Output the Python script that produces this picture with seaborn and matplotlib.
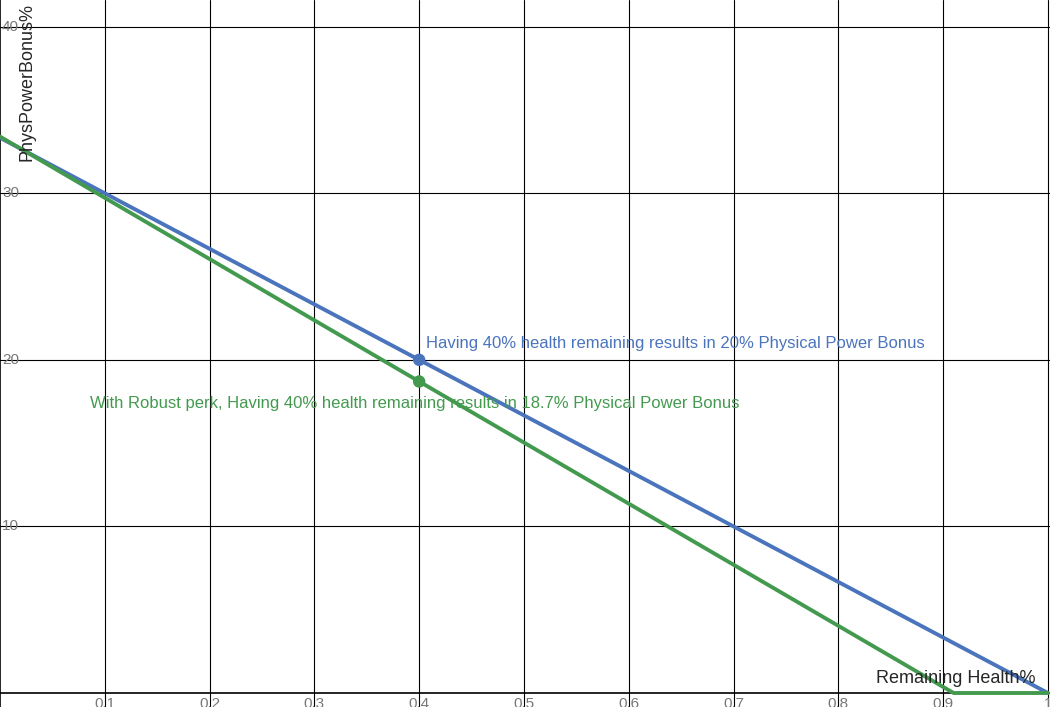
import matplotlib
matplotlib.use('Agg')
import matplotlib.pyplot as plt
import seaborn as sns
import pandas as pd

# data
blue_x = [0.0, 0.4, 1.0]
blue_y = [33.33, 20.0, 0.0]
green_x = [0.0, 0.4, 0.91, 1.0]
green_y = [33.4, 18.7, 0.0, 0.0]
point_x = [0.4, 0.4]
point_y = [20.0, 18.7]
x_ticks = [0.1, 0.2, 0.3, 0.4, 0.5, 0.6, 0.7, 0.8, 0.9, 1.0]
x_tick_labels = ['0.1', '0.2', '0.3', '0.4', '0.5', '0.6', '0.7', '0.8', '0.9', '1']
y_ticks = [10, 20, 30, 40]

BLUE = '#4a74bc'
GREEN = '#439a4f'

sns.set_style('white')
plt.rcParams['font.family'] = ['Arial', 'Liberation Sans', 'DejaVu Sans']

fig = plt.figure(figsize=(10.5, 7.07), dpi=100)
ax = fig.add_axes([0, 0, 1, 1])
ax.set_xlim(0, 1.002)
ax.set_ylim(-0.84, 41.6)

for x in x_ticks:
    ax.axvline(x, color='black', lw=0.8, zorder=1)
for y in y_ticks:
    ax.axhline(y, color='black', lw=0.8, zorder=1)
ax.axhline(0, color='black', lw=1.2, zorder=1)
ax.axvline(0, color='black', lw=1.2, zorder=1)

df_b = pd.DataFrame({'x': blue_x, 'y': blue_y})
df_g = pd.DataFrame({'x': green_x, 'y': green_y})
sns.lineplot(data=df_b, x='x', y='y', color=BLUE, lw=2.8, ax=ax, zorder=3)
sns.lineplot(data=df_g, x='x', y='y', color=GREEN, lw=2.8, ax=ax, zorder=3)
sns.scatterplot(x=point_x, y=point_y, hue=[0, 1], palette=[BLUE, GREEN],
                s=80, legend=False, ax=ax, zorder=4, edgecolor='none')

ax.text(0.407, 21.0, 'Having 40% health remaining results in 20% Physical Power Bonus',
        color=BLUE, fontsize=12, va='center')
ax.text(0.086, 17.4, 'With Robust perk, Having 40% health remaining results in 18.7% Physical Power Bonus',
        color=GREEN, fontsize=12, va='center')

for x, lab in zip(x_ticks, x_tick_labels):
    ax.text(x, -0.25, lab, color='#777777', fontsize=11, ha='center', va='top')
for y in y_ticks:
    ax.text(0.002, y, str(y), color='#777777', fontsize=11, ha='left', va='center')

ax.text(0.026, 41.4, 'PhysPowerBonus%', rotation=90, fontsize=13, ha='center', va='top')
ax.text(0.988, 0.9, 'Remaining Health%', fontsize=13, ha='right', va='center')

ax.set_xticks([])
ax.set_yticks([])
ax.set_xlabel('')
ax.set_ylabel('')
for s in ax.spines.values():
    s.set_visible(False)

fig.savefig('out.png', dpi=100)
